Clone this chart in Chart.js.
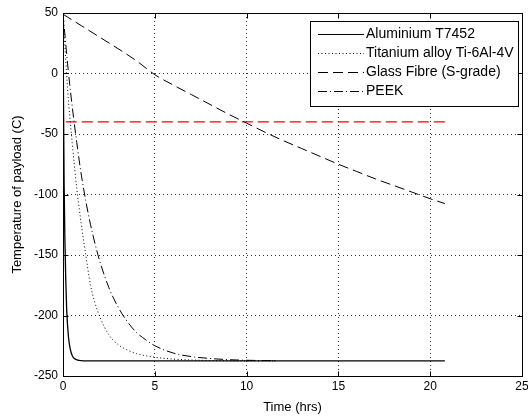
<!DOCTYPE html>
<html>
<head>
<meta charset="utf-8">
<script src="https://cdn.jsdelivr.net/npm/chart.js@4.4.1/dist/chart.umd.min.js"></script>
<style>
  html, body { margin: 0; padding: 0; background: #fff; overflow: hidden; }
  #wrap { width: 528px; height: 416px; overflow: hidden; }
  canvas { display: block; }
</style>
</head>
<body>
<div id="wrap"><canvas id="chartCanvas" width="540" height="416"></canvas></div>
<script>
// cooling curves, hours vs deg C
const alumHours = [0, 0.03, 0.06, 0.1, 0.15, 0.2, 0.3, 0.4, 0.5, 0.6, 0.8, 1.0, 1.2, 20.8];
const alumTemp  = [50, -30, -90, -135, -170, -195, -218, -228, -233, -235.3, -236.8, -237.3, -237.5, -237.5];

const titHours = [0, 0.25, 0.5, 0.75, 1.0, 1.25, 1.5, 1.75, 2.0, 2.5, 3.0, 3.5, 4.0, 5.0, 6.0, 7.0, 8.0, 9.0, 10.0, 11.6];
const titTemp  = [50, -13, -57, -95, -125, -151, -175, -190, -201, -216, -224, -228.5, -231.5, -234.5, -236, -236.8, -237.2, -237.4, -237.5, -237.5];

const glassHours = [0, 1, 2, 3, 4, 5, 6, 7, 8, 9, 10, 11, 12, 13, 14, 15, 16, 17, 18, 19, 20, 20.8];
const glassTemp  = [49, 39.5, 30, 20.5, 10.5, -1, -9.5, -17.5, -25.5, -33.5, -41, -48.5, -55.5, -62, -68.5, -75, -81, -87, -92.5, -98, -103.5, -107.5];

const peekHours = [0, 0.25, 0.5, 0.75, 1.0, 1.25, 1.5, 1.75, 2.0, 2.5, 3.0, 3.5, 4.0, 4.5, 5.0, 6.0, 7.0, 8.0, 9.0, 10.0, 11.6];
const peekTemp  = [50, 8, -27, -57, -84, -106, -125, -141, -155, -177, -193, -205, -214, -220, -225, -231, -234, -235.5, -236.5, -237, -237.3];

// payload limit line
const limitHours = [0.15, 20.8];
const limitTemp  = [-40, -40];

const xTicks = [0, 5, 10, 15, 20, 25];
const yTicks = [-250, -200, -150, -100, -50, 0, 50];

const FONT = "'Liberation Sans', Arial, Helvetica, sans-serif";

function pts(xs, ys) {
    return xs.map((x, i) => ({ x: x, y: ys[i] }));
}

// box, inward ticks and the boxed legend, matlab style
const framePlugin = {
    id: 'frame',
    afterDatasetsDraw(chart) {
        const ctx = chart.ctx;
        const a = chart.chartArea;
        const xs = chart.scales.x, ys = chart.scales.y;
        const L = Math.round(a.left) + 0.5, R = Math.round(a.right) + 0.5;
        const T = Math.round(a.top) + 0.5, B = Math.round(a.bottom) + 0.5;
        ctx.save();
        ctx.setLineDash([]);
        ctx.strokeStyle = '#000';
        ctx.lineWidth = 1;
        ctx.strokeRect(L, T, R - L, B - T);

        const tl = 5;
        ctx.beginPath();
        xTicks.forEach(v => {
            const px = Math.round(xs.getPixelForValue(v)) + 0.5;
            ctx.moveTo(px, B); ctx.lineTo(px, B - tl);
            ctx.moveTo(px, T); ctx.lineTo(px, T + tl);
        });
        yTicks.forEach(v => {
            const py = Math.round(ys.getPixelForValue(v)) + 0.5;
            ctx.moveTo(L, py); ctx.lineTo(L + tl, py);
            ctx.moveTo(R, py); ctx.lineTo(R - tl, py);
        });
        ctx.stroke();

        // legend
        const box = { x: 310.5, y: 21.5, w: 208, h: 85 };
        ctx.fillStyle = '#fff';
        ctx.fillRect(box.x, box.y, box.w, box.h);
        ctx.strokeRect(box.x, box.y, box.w, box.h);
        ctx.font = '14px ' + FONT;
        ctx.textBaseline = 'middle';
        ctx.textAlign = 'left';
        const items = chart.data.datasets.filter(d => d.label);
        items.forEach((d, i) => {
            const cy = Math.round(33.5 + i * 19.1) + 0.5;
            ctx.strokeStyle = d.borderColor;
            ctx.lineWidth = 1;
            ctx.setLineDash(d.borderDash || []);
            ctx.beginPath();
            ctx.moveTo(318, cy);
            ctx.lineTo(364, cy);
            ctx.stroke();
            ctx.setLineDash([]);
            ctx.fillStyle = '#000';
            ctx.fillText(d.label, 366, cy);
        });
        ctx.restore();
    }
};

const lineBase = {
    pointRadius: 0,
    borderWidth: 1,
    fill: false,
    cubicInterpolationMode: 'monotone'
};

const canvas = document.getElementById('chartCanvas');
new Chart(canvas, {
    type: 'line',
    data: {
        datasets: [
            Object.assign({}, lineBase, { label: 'Aluminium T7452', data: pts(alumHours, alumTemp), borderColor: '#000', borderWidth: 1.3 }),
            Object.assign({}, lineBase, { label: 'Titanium alloy Ti-6Al-4V', data: pts(titHours, titTemp), borderColor: '#000', borderDash: [1, 2.5] }),
            Object.assign({}, lineBase, { label: 'Glass Fibre (S-grade)', data: pts(glassHours, glassTemp), borderColor: '#000', borderDash: [10, 5] }),
            Object.assign({}, lineBase, { label: 'PEEK', data: pts(peekHours, peekTemp), borderColor: '#000', borderDash: [9, 3, 1, 3] }),
            Object.assign({}, lineBase, { data: pts(limitHours, limitTemp), borderColor: '#ff0000', borderWidth: 1.4, borderDash: [11, 5] })
        ]
    },
    options: {
        responsive: false,
        animation: false,
        layout: { padding: { top: 13, right: 18, left: 0, bottom: 0 } },
        plugins: {
            legend: { display: false },
            tooltip: { enabled: false }
        },
        scales: {
            x: {
                type: 'linear',
                min: 0, max: 25,
                afterFit: s => { s.height = 40; },
                afterBuildTicks: s => { s.ticks = xTicks.map(v => ({ value: v })); },
                ticks: { font: { family: FONT, size: 12 }, color: '#000', padding: 3, maxRotation: 0, autoSkip: false },
                grid: { color: 'rgba(0,0,0,0.8)', lineWidth: 1, drawTicks: false },
                border: { display: false, dash: [1, 3] },
                title: { display: true, text: 'Time (hrs)', font: { family: FONT, size: 13 }, color: '#000', padding: { top: 0, bottom: 1 } }
            },
            y: {
                type: 'linear',
                min: -250, max: 50,
                afterFit: s => { s.width = 63; },
                afterBuildTicks: s => { s.ticks = yTicks.map(v => ({ value: v })); },
                ticks: { font: { family: FONT, size: 12 }, color: '#000', padding: 5, autoSkip: false },
                grid: { color: 'rgba(0,0,0,0.8)', lineWidth: 1, drawTicks: false },
                border: { display: false, dash: [1, 3] },
                title: { display: true, text: 'Temperature of payload (C)', font: { family: FONT, size: 13 }, color: '#000', padding: { top: 10, bottom: 0 } }
            }
        }
    },
    plugins: [framePlugin]
});
</script>
</body>
</html>
